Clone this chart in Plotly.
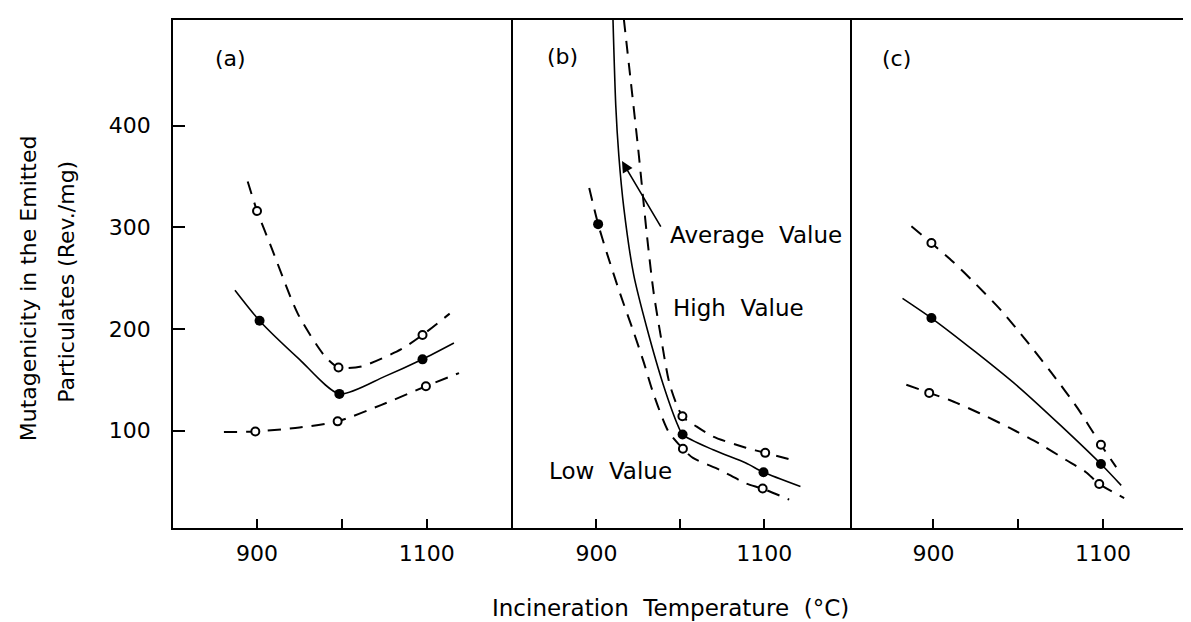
import plotly.graph_objects as go

# ---------------- data (temperature in °C, mutagenicity in Rev./mg) ----------------
# Panel (a)
a_avg_pts_t = [903, 997, 1095]
a_avg_pts_v = [208, 136, 170]
a_high_pts_t = [900, 996, 1095]
a_high_pts_v = [316, 162, 194]
a_low_pts_t = [898, 995, 1099]
a_low_pts_v = [99, 109, 143.5]
a_avg_fit_t = [874, 903, 950, 997, 1050, 1095, 1132]
a_avg_fit_v = [238, 208, 170, 136, 153, 170, 186]
a_high_fit_t = [889, 900, 917, 948, 980, 996, 1023, 1070, 1095, 1127]
a_high_fit_v = [345, 316, 280, 215, 173, 162, 163, 180, 194, 215]
a_low_fit_t = [861, 898, 950, 995, 1046, 1099, 1138]
a_low_fit_v = [98.5, 99, 103, 109, 125, 143.5, 156.5]

# Panel (b)
b_avg_pts_t = [902, 1002.6, 1099]
b_avg_pts_v = [303, 96, 59]
b_high_pts_t = [1002.4, 1101]
b_high_pts_v = [114, 78]
b_low_pts_t = [1003, 1098]
b_low_pts_v = [82, 43]
b_avg_fit_t = [919.5, 923, 926.7, 932.6, 944.4, 960, 979.6, 997.5, 1002.6, 1039, 1078, 1099, 1143]
b_avg_fit_v = [510, 420, 370, 319, 253, 201, 145, 104, 96, 81, 68, 59, 45]
b_high_fit_t = [932.6, 940, 949.6, 960, 967.9, 977.6, 987.4, 1002.4, 1019, 1039, 1078, 1101, 1137.5]
b_high_fit_v = [505, 450, 378, 293, 237, 188, 145, 114, 104, 94, 83, 78, 70]
b_low_fit_t = [891.4, 902, 913, 928.6, 944, 956, 968, 985.7, 1003, 1015, 1046.7, 1078, 1098, 1129.6]
b_low_fit_v = [338.5, 303, 273, 233.6, 197.6, 168, 136, 99, 82, 73, 61.4, 48, 42.8, 32]

# Panel (c)
c_avg_pts_t = [897.6, 1097.6]
c_avg_pts_v = [210.6, 67]
c_high_pts_t = [897.6, 1097.6]
c_high_pts_v = [284.4, 86]
c_low_pts_t = [895, 1095.6]
c_low_pts_v = [137, 47.4]
c_avg_fit_t = [863.5, 897.6, 950, 1001.5, 1050, 1097.6, 1121.5]
c_avg_fit_v = [230, 210.6, 177, 142, 105, 67, 46]
c_high_fit_t = [874, 897.6, 923, 950, 980, 1010, 1040, 1070, 1097.6, 1115.6]
c_high_fit_v = [301, 284.4, 266, 244, 218, 188, 156, 122, 86, 64]
c_low_fit_t = [868, 895, 919, 954.5, 990, 1025, 1056.5, 1080, 1095.6, 1125]
c_low_fit_v = [145, 137, 130, 117, 102.5, 87, 71, 59, 47.4, 33.6]

x_tick_vals = [900, 1000, 1100]
x_tick_text = ["900", "", "1100"]
y_tick_vals = [100, 200, 300, 400]
y_tick_text = ["100", "200", "300", "400"]

panel_labels = ["(a)", "(b)", "(c)"]
y_title_lines = ["Mutagenicity in the Emitted", "Particulates (Rev./mg)"]
x_title = "Incineration  Temperature  (°C)"

# ---------------- figure ----------------
FONT = "DejaVu Sans"
DASH = "13px,9px"
fig = go.Figure()

def add_panel(k, avg_fit, high_fit, low_fit, avg_pts, high_pts, low_pts):
    xa = "x" if k == 1 else f"x{k}"
    ya = "y" if k == 1 else f"y{k}"
    fig.add_trace(go.Scatter(x=avg_fit[0], y=avg_fit[1], mode="lines", xaxis=xa, yaxis=ya,
                             line=dict(color="black", width=1.6, shape="spline", smoothing=0.7),
                             showlegend=False, hoverinfo="skip"))
    for fit in (high_fit, low_fit):
        fig.add_trace(go.Scatter(x=fit[0], y=fit[1], mode="lines", xaxis=xa, yaxis=ya,
                                 line=dict(color="black", width=2, dash=DASH, shape="spline", smoothing=0.7),
                                 showlegend=False, hoverinfo="skip"))
    fig.add_trace(go.Scatter(x=avg_pts[0], y=avg_pts[1], mode="markers", xaxis=xa, yaxis=ya,
                             marker=dict(symbol="circle", size=10, color="black"),
                             showlegend=False))
    for pts in (high_pts, low_pts):
        fig.add_trace(go.Scatter(x=pts[0], y=pts[1], mode="markers", xaxis=xa, yaxis=ya,
                                 marker=dict(symbol="circle", size=8, color="white",
                                             line=dict(color="black", width=2)),
                                 showlegend=False))

add_panel(1, (a_avg_fit_t, a_avg_fit_v), (a_high_fit_t, a_high_fit_v), (a_low_fit_t, a_low_fit_v),
          (a_avg_pts_t, a_avg_pts_v), (a_high_pts_t, a_high_pts_v), (a_low_pts_t, a_low_pts_v))
add_panel(2, (b_avg_fit_t, b_avg_fit_v), (b_high_fit_t, b_high_fit_v), (b_low_fit_t, b_low_fit_v),
          (b_avg_pts_t, b_avg_pts_v), (b_high_pts_t, b_high_pts_v), (b_low_pts_t, b_low_pts_v))
add_panel(3, (c_avg_fit_t, c_avg_fit_v), (c_high_fit_t, c_high_fit_v), (c_low_fit_t, c_low_fit_v),
          (c_avg_pts_t, c_avg_pts_v), (c_high_pts_t, c_high_pts_v), (c_low_pts_t, c_low_pts_v))

W, H = 1191, 622
L, R, T, B = 165, 8, 12, 102
pw = W - L - R
ph = H - T - B
d1 = (506 - L) / pw
d2 = (845 - L) / pw
x_ranges = [[801, 1202], [801, 1204], [803.5, 1201.5]]
y_range = [4.1, 503.8]
domains = [[0, d1], [d1, d2], [d2, 1]]

tickfont = dict(family=FONT, size=22, color="black")
layout = dict(
    width=W, height=H, margin=dict(l=L, r=R, t=T, b=B),
    paper_bgcolor="white", plot_bgcolor="white",
    font=dict(family=FONT, color="black"),
)
for i in range(3):
    k = "" if i == 0 else str(i + 1)
    layout["xaxis" + k] = dict(
        domain=domains[i], range=x_ranges[i], anchor="y" + k,
        tickmode="array", tickvals=x_tick_vals, ticktext=x_tick_text,
        ticks="inside", ticklen=9, tickwidth=1.6, tickcolor="black",
        showline=True, linewidth=1.8, linecolor="black", mirror=True,
        showgrid=False, zeroline=False, tickfont=tickfont, ticklabelstandoff=5,
    )
    ydict = dict(
        domain=[0, 1], range=y_range, anchor="x" + k,
        showline=True, linewidth=1.8, linecolor="black", mirror=(i == 2),
        showgrid=False, zeroline=False,
    )
    if i == 0:
        ydict.update(tickmode="array", tickvals=y_tick_vals, ticktext=y_tick_text,
                     ticks="inside", ticklen=12, tickwidth=1.6, tickcolor="black",
                     tickfont=tickfont, ticklabelstandoff=16)
    else:
        ydict.update(showticklabels=False, ticks="")
    layout["yaxis" + k] = ydict
fig.update_layout(**layout)

ann_font = dict(family=FONT, size=23, color="black")
# panel labels
label_pos = [("x", "y", 869, 466), ("x2", "y2", 859.4, 468), ("x3", "y3", 856.5, 466)]
for txt, (xr, yr, xv, yv) in zip(panel_labels, label_pos):
    fig.add_annotation(x=xv, y=yv, xref=xr, yref=yr, text=txt, showarrow=False,
                       font=dict(family=FONT, size=22, color="black"),
                       xanchor="center", yanchor="middle")

# curve labels in panel (b)
fig.add_annotation(x=985, y=292.6, xref="x2", yref="y2", text="Average  Value", showarrow=False,
                   font=ann_font, xanchor="left", yanchor="middle")
fig.add_annotation(x=988.5, y=220.6, xref="x2", yref="y2", text="High  Value", showarrow=False,
                   font=ann_font, xanchor="left", yanchor="middle")
fig.add_annotation(x=841, y=59.8, xref="x2", yref="y2", text="Low  Value", showarrow=False,
                   font=ann_font, xanchor="left", yanchor="middle")
# leader arrow
fig.add_annotation(x=930.4, y=365, ax=977.7, ay=299, xref="x2", yref="y2", axref="x2", ayref="y2",
                   text="", showarrow=True, arrowhead=2, arrowsize=1.4, arrowwidth=1.6,
                   arrowcolor="black", standoff=0)

# axis titles
fig.add_annotation(x=(663 - L) / pw, y=(H - B - 600) / ph, xref="paper", yref="paper",
                   text=x_title, showarrow=False, font=dict(family=FONT, size=23, color="black"),
                   xanchor="center", yanchor="middle")
fig.add_annotation(x=(20 - L) / pw, y=(H - B - 280) / ph, xref="paper", yref="paper",
                   text=y_title_lines[0], showarrow=False, textangle=-90,
                   font=dict(family=FONT, size=22, color="black"), xanchor="center", yanchor="middle")
fig.add_annotation(x=(57.5 - L) / pw, y=(H - B - 274) / ph, xref="paper", yref="paper",
                   text=y_title_lines[1], showarrow=False, textangle=-90,
                   font=dict(family=FONT, size=22, color="black"), xanchor="center", yanchor="middle")

fig.write_html("out.html")
